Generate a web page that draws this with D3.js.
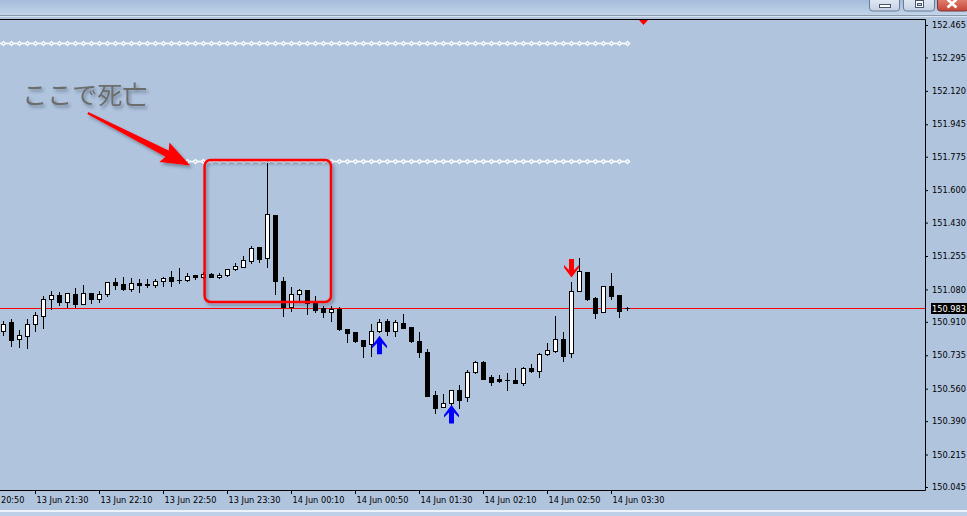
<!DOCTYPE html>
<html><head><meta charset="utf-8">
<script src="https://cdn.jsdelivr.net/npm/d3@7"></script>
<style>
html,body{margin:0;padding:0;background:#b0c4de;overflow:hidden}
svg{display:block}
</style></head><body>
<svg id="c" width="967" height="516"></svg>
<script>
// ---------- DATA ----------
const barTimes = [
"21:10","21:15","21:20","21:25","21:30","21:35","21:40","21:45","21:50","21:55",
"22:00","22:05","22:10","22:15","22:20","22:25","22:30","22:35","22:40","22:45","22:50","22:55",
"23:00","23:05","23:10","23:15","23:20","23:25","23:30","23:35","23:40","23:45","23:50","23:55",
"00:00","00:05","00:10","00:15","00:20","00:25","00:30","00:35","00:40","00:45","00:50","00:55",
"01:00","01:05","01:10","01:15","01:20","01:25","01:30","01:35","01:40","01:45","01:50","01:55",
"02:00","02:05","02:10","02:15","02:20","02:25","02:30","02:35","02:40","02:45","02:50","02:55",
"03:00","03:05","03:10","03:15","03:20","03:25","03:30","03:35","03:40"];
const opens = [150.864,150.911,150.819,150.838,150.897,150.942,151.028,151.051,151.016,151.056,
151.004,151.060,151.031,151.054,151.117,151.108,151.081,151.114,151.108,151.102,151.123,151.143,
151.127,151.128,151.154,151.143,151.161,151.143,151.154,151.185,151.199,151.230,151.301,151.246,
151.470,151.124,150.986,151.054,151.077,151.007,150.981,150.960,150.977,150.871,150.857,150.815,
150.792,150.864,150.915,150.864,150.903,150.883,150.810,150.752,150.527,150.466,150.487,150.553,
150.518,150.646,150.700,150.620,150.609,150.606,150.606,150.591,150.668,150.654,150.740,150.759,
150.820,150.745,151.073,151.171,151.037,150.963,151.098,151.051,150.983];
const highs = [150.916,150.925,150.867,150.923,150.963,151.046,151.070,151.065,151.062,151.086,
151.103,151.062,151.073,151.119,151.138,151.143,151.138,151.135,151.133,151.135,151.147,151.175,
151.191,151.164,151.156,151.170,151.164,151.164,151.188,151.220,151.255,151.307,151.304,151.741,
151.472,151.143,151.094,151.081,151.079,151.046,150.993,150.993,150.989,150.873,150.859,150.817,
150.899,150.923,150.923,150.920,150.951,150.885,150.855,150.766,150.549,150.531,150.555,150.579,
150.658,150.705,150.705,150.632,150.632,150.644,150.667,150.672,150.689,150.749,150.801,150.941,
150.859,151.120,151.245,151.173,151.039,151.100,151.168,151.053,150.988];
const lows = [150.841,150.784,150.780,150.775,150.864,150.879,150.976,150.998,150.986,150.989,
151.002,151.007,151.012,151.047,151.082,151.079,151.072,151.068,151.094,151.094,151.099,151.099,
151.115,151.124,151.136,151.141,151.143,151.141,151.149,151.182,151.196,151.220,151.225,151.199,
151.056,150.942,150.968,151.016,150.951,150.960,150.937,150.916,150.869,150.806,150.806,150.728,
150.733,150.859,150.841,150.838,150.877,150.803,150.728,150.521,150.431,150.464,150.475,150.460,
150.497,150.642,150.610,150.581,150.597,150.553,150.589,150.581,150.649,150.623,150.738,150.754,
150.707,150.728,151.071,151.026,150.932,150.961,151.030,150.937,150.970];
const closes = [150.899,150.815,150.841,150.899,150.946,151.028,151.051,151.012,151.060,151.002,
151.060,151.030,151.054,151.117,151.105,151.081,151.112,151.105,151.102,151.123,151.141,151.126,
151.127,151.149,151.143,151.159,151.145,151.156,151.185,151.203,151.234,151.295,151.239,151.473,
151.126,150.989,151.056,151.077,151.007,150.972,150.963,150.977,150.871,150.850,150.811,150.785,
150.864,150.911,150.864,150.908,150.879,150.810,150.754,150.523,150.457,150.483,150.553,150.501,
150.647,150.700,150.612,150.597,150.599,150.606,150.591,150.667,150.653,150.742,150.761,150.820,
150.731,151.072,151.175,151.028,150.958,151.098,151.047,150.968,150.983];

const priceTicks = [152.465,152.295,152.120,151.945,151.775,151.600,151.430,151.255,151.080,
150.910,150.735,150.560,150.390,150.215,150.045];
const timeTickLabels = ["13 Jun 20:50","13 Jun 21:30","13 Jun 22:10","13 Jun 22:50","13 Jun 23:30",
"14 Jun 00:10","14 Jun 00:50","14 Jun 01:30","14 Jun 02:10","14 Jun 02:50","14 Jun 03:30"];
const currentPrice = 150.983;

// horizontal level indicators (value, first bar)
const levelPrices = [152.373, 151.750];
const levelStarts = ["21:10", "23:05"];

// signal arrows
const signalTimes = ["01:05", "01:50", "03:05"];
const signalPrices = [150.837, 150.474, 151.143];
const signalDirs = ["up", "up", "down"];

// annotation
const noteText = "ここで死亡";
const noteTime = "21:22", notePrice = 152.049;
const noteArrowFrom = ["22:03", 152.004], noteArrowTo = ["23:07", 151.729];
const boxTimes = ["23:16", "00:35"], boxPrices = [151.758, 151.014];

// ---------- HELPERS ----------
const pt = d3.timeParse("%Y %d %b %H:%M");
const barDate = s => pt("2024 " + (+s.slice(0,2) >= 12 ? "13 Jun " : "14 Jun ") + s);

const svg = d3.select("#c");
const W = 967, H = 516;
const plotR = 925, plotT = 19, plotB = 490;

const x = d3.scaleTime()
  .domain([barDate(barTimes[0]), barDate(barTimes[barTimes.length-1])])
  .range([3, 627]);
const y = d3.scaleLinear().domain([150.045, 152.465]).range([487, 25]);

const defs = svg.append("defs");
const tb = defs.append("linearGradient").attr("id","tb").attr("x1",0).attr("y1",0).attr("x2",0).attr("y2",1);
tb.append("stop").attr("offset","0%").attr("stop-color","#a4bcda");
tb.append("stop").attr("offset","100%").attr("stop-color","#c2d4ea");
const bg = defs.append("linearGradient").attr("id","btn").attr("x1",0).attr("y1",0).attr("x2",0).attr("y2",1);
bg.append("stop").attr("offset","0%").attr("stop-color","#e9eff7");
bg.append("stop").attr("offset","100%").attr("stop-color","#c3d1e4");
const rg = defs.append("linearGradient").attr("id","btnr").attr("x1",0).attr("y1",0).attr("x2",0).attr("y2",1);
rg.append("stop").attr("offset","0%").attr("stop-color","#e8907f");
rg.append("stop").attr("offset","100%").attr("stop-color","#c4463a");
const f = defs.append("filter").attr("id","sh").attr("x","-30%").attr("y","-30%").attr("width","160%").attr("height","160%");
f.append("feDropShadow").attr("dx",2).attr("dy",2.5).attr("stdDeviation",1.8)
  .attr("flood-color","#2e3a4a").attr("flood-opacity",0.45);
defs.append("clipPath").attr("id","plot").append("rect")
  .attr("x",0).attr("y",plotT+1).attr("width",plotR).attr("height",plotB-plotT-1);

// ---------- BACKGROUND / WINDOW ----------
svg.append("rect").attr("width",W).attr("height",H).attr("fill","#b0c4de");
svg.append("rect").attr("x",0).attr("y",0).attr("width",W).attr("height",15).attr("fill","url(#tb)");
svg.append("rect").attr("x",0).attr("y",15).attr("width",W).attr("height",1).attr("fill","#8a97a8");
svg.append("rect").attr("x",0).attr("y",16).attr("width",W).attr("height",1).attr("fill","#d9e3ef");

// window buttons
svg.append("rect").attr("x",869.5).attr("y",-4).attr("width",30).attr("height",15).attr("rx",3)
  .attr("fill","url(#btn)").attr("stroke","#6a7c96");
svg.append("rect").attr("x",879.5).attr("y",4.5).attr("width",11).attr("height",3)
  .attr("fill","#fff").attr("stroke","#46566e");
svg.append("rect").attr("x",903.5).attr("y",-4).attr("width",31).attr("height",15).attr("rx",3)
  .attr("fill","url(#btn)").attr("stroke","#6a7c96");
svg.append("rect").attr("x",915.5).attr("y",0.5).attr("width",8).attr("height",7)
  .attr("fill","#fff").attr("stroke","#46566e");
svg.append("rect").attr("x",917.5).attr("y",3.5).attr("width",4).attr("height",2)
  .attr("fill","#c8d4e4").attr("stroke","#46566e");
svg.append("rect").attr("x",937.5).attr("y",-4).attr("width",31).attr("height",15).attr("rx",3)
  .attr("fill","url(#btnr)").attr("stroke","#7a3a35");
svg.append("path").attr("d","M947.5,-0.5 L956.5,7.5 M956.5,-0.5 L947.5,7.5")
  .attr("stroke","#fff").attr("stroke-width",2.6);

// bottom strip
svg.append("rect").attr("x",0).attr("y",510).attr("width",W).attr("height",2).attr("fill","#eef3f9");
svg.append("rect").attr("x",0).attr("y",512).attr("width",W).attr("height",4).attr("fill","#bed0e7");

// ---------- PLOT ----------
const plot = svg.append("g").attr("clip-path","url(#plot)");

// level indicator chains
levelPrices.forEach((p, k) => {
  const si = barTimes.indexOf(levelStarts[k]);
  const yy = Math.round(y(p));
  const x0 = k === 0 ? 0 : Math.round(x(barDate(barTimes[si]))) - 3;
  const x1 = Math.round(x(barDate(barTimes[barTimes.length-1]))) + 3;
  const g = plot.append("g");
  g.append("rect").attr("x",x0).attr("y",yy-1).attr("width",x1-x0).attr("height",3)
    .attr("fill","#dfe6f0").attr("opacity",0.55);
  g.append("rect").attr("x",x0).attr("y",yy).attr("width",x1-x0).attr("height",1)
    .attr("fill","#ffffff");
  const idx = d3.range(k === 0 ? -1 : si, barTimes.length);
  idx.forEach(i => {
    const cx = i < 0 ? Math.round(x(barDate(barTimes[0]))) - 8 : Math.round(x(barDate(barTimes[i])));
    g.append("path").attr("d",`M${cx+0.5},${yy-2.5} L${cx+3.5},${yy+0.5} L${cx+0.5},${yy+3.5} L${cx-2.5},${yy+0.5} Z`)
      .attr("fill","#f3f6fa");
    g.append("rect").attr("x",cx).attr("y",yy).attr("width",1).attr("height",1).attr("fill","#9aabc2");
  });
});

// current price line
const yc = Math.round(y(currentPrice)) + 0.5;
plot.append("line").attr("x1",0).attr("x2",plotR).attr("y1",yc).attr("y2",yc)
  .attr("stroke","#ff0000").attr("stroke-width",1);

// candles
const cg = plot.append("g").attr("shape-rendering","crispEdges");
barTimes.forEach((t, i) => {
  const cx = Math.round(x(barDate(t)));
  const o = opens[i], h = highs[i], l = lows[i], c = closes[i];
  cg.append("line").attr("x1",cx+0.5).attr("x2",cx+0.5)
    .attr("y1",Math.round(y(h))).attr("y2",Math.round(y(l))+1)
    .attr("stroke","#000");
  const yt = Math.round(y(Math.max(o,c))), yb = Math.round(y(Math.min(o,c)));
  if (o === c) {
    cg.append("line").attr("x1",cx-2).attr("x2",cx+3).attr("y1",yt+0.5).attr("y2",yt+0.5).attr("stroke","#000");
  } else {
    cg.append("rect").attr("x",cx-1.5).attr("y",yt+0.5).attr("width",4).attr("height",Math.max(yb-yt,1))
      .attr("fill", c > o ? "#ffffff" : "#000000").attr("stroke","#000");
  }
});

// signal arrows
signalTimes.forEach((t, k) => {
  const cx = Math.round(x(barDate(t))) + 0.5;
  const yy = y(signalPrices[k]);
  const s = signalDirs[k] === "up" ? 1 : -1;
  const pts = [[0,0],[7.5,10],[7.5,12.5],[2.5,7.5],[2.5,18.5],[-2.5,18.5],[-2.5,7.5],[-7.5,12.5],[-7.5,10]];
  plot.append("path")
    .attr("d", "M" + pts.map(p => `${cx+p[0]},${yy + s*p[1]}`).join("L") + "Z")
    .attr("fill", signalDirs[k] === "up" ? "#0000ff" : "#ff0000");
});

// chart-shift marker
svg.append("path").attr("d","M639,20 L648,20 L643.5,25 Z").attr("fill","#ff0000");

// ---------- FRAME & AXES ----------
svg.append("path").attr("d",`M0,${plotT+0.5} H${plotR+0.5} V${plotB+0.5} H0`)
  .attr("fill","none").attr("stroke","#000").attr("stroke-width",1);

const yAxis = svg.append("g").attr("transform",`translate(${plotR},0)`)
  .call(d3.axisRight(y).tickValues(priceTicks).tickFormat(d3.format(".3f")).tickSize(3).tickPadding(4));
yAxis.select(".domain").remove();
yAxis.selectAll("line").attr("stroke","#000");
yAxis.selectAll("text").attr("font-family","DejaVu Sans, sans-serif").attr("font-size","8.2px").attr("fill","#000");

// current price label
svg.append("rect").attr("x",931).attr("y",Math.round(y(currentPrice))-5).attr("width",36).attr("height",11).attr("fill","#000");
svg.append("text").attr("x",932).attr("y",Math.round(y(currentPrice))+3.5).text(d3.format(".3f")(currentPrice))
  .attr("font-family","DejaVu Sans, sans-serif").attr("font-size","8.2px").attr("fill","#fff");

const tickDates = timeTickLabels.map(s => pt("2024 " + s));
const xAxis = svg.append("g").attr("transform",`translate(0,${plotB})`)
  .call(d3.axisBottom(x).tickValues(tickDates).tickFormat((d,i) => timeTickLabels[i]).tickSize(4).tickPadding(3));
xAxis.select(".domain").remove();
xAxis.selectAll("line").attr("stroke","#000");
xAxis.selectAll("text").attr("text-anchor","start").attr("x",1)
  .attr("font-family","DejaVu Sans, sans-serif").attr("font-size","8.2px").attr("fill","#000");

// ---------- ANNOTATION ----------
const ann = svg.append("g");
ann.append("text").attr("x", x(barDate(noteTime))).attr("y", y(notePrice))
  .text(noteText).attr("font-family","Noto Sans CJK JP, sans-serif").attr("font-size","25px")
  .attr("fill","#6c6c6c").attr("filter","url(#sh)");

const ax0 = x(barDate(noteArrowFrom[0])), ay0 = y(noteArrowFrom[1]);
const ax1 = x(barDate(noteArrowTo[0])), ay1 = y(noteArrowTo[1]);
const dx = ax1-ax0, dy = ay1-ay0, len = Math.hypot(dx,dy);
const ux = dx/len, uy = dy/len, px = -uy, py = ux;
const hl = 26, hw = 11;
const bx = ax1 - ux*hl, by = ay1 - uy*hl;
const P = (a,b,w) => `${a + px*w},${b + py*w}`;
ann.append("path").attr("d",
  `M${P(ax0,ay0,-1)} L${P(bx,by,-3.5)} L${P(bx-ux*3,by-uy*3,-hw)} L${ax1},${ay1} L${P(bx-ux*3,by-uy*3,hw)} L${P(bx,by,3.5)} L${P(ax0,ay0,1)} Z`)
  .attr("fill","#ff0000").attr("filter","url(#sh)");

const bx0 = x(barDate(boxTimes[0])), bx1 = x(barDate(boxTimes[1]));
const by0 = y(boxPrices[0]), by1 = y(boxPrices[1]);
ann.append("rect").attr("x",bx0).attr("y",by0).attr("width",bx1-bx0).attr("height",by1-by0)
  .attr("rx",6).attr("fill","none").attr("stroke","#ff0000").attr("stroke-width",2.5).attr("filter","url(#sh)");
</script>
</body></html>
